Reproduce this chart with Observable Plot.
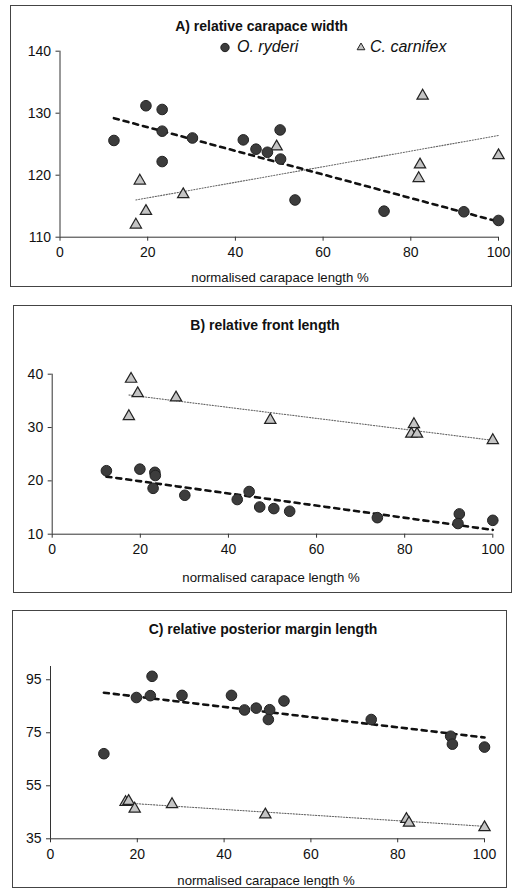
<!DOCTYPE html>
<html>
<head>
<meta charset="utf-8">
<script src="https://cdn.jsdelivr.net/npm/d3@7"></script>
<script src="https://cdn.jsdelivr.net/npm/@observablehq/plot@0.6"></script>
<style>
  html, body { margin: 0; padding: 0; background: #fff; }
  #page { position: relative; width: 519px; height: 894px; overflow: hidden; font-family: "Liberation Sans", Arial, sans-serif; color: #111; }
  .frame { position: absolute; border: 1.5px solid #444; box-sizing: border-box; pointer-events: none; }
  .plotwrap { position: absolute; }
  .plotwrap svg { display: block; background: transparent; }
  .title { position: absolute; font-weight: bold; font-size: 14px; text-align: center; white-space: nowrap; transform: translate(-50%, -50%); }
  .xlabel { position: absolute; font-size: 13.2px; text-align: center; white-space: nowrap; transform: translate(-50%, -50%); }
  .legend { position: absolute; font-size: 16px; font-style: italic; white-space: nowrap; transform: translateY(-50%); }
  .legsym { position: absolute; display: block; }
</style>
</head>
<body>
<div id="page"></div>
<script>
// ---------------- data ----------------
const xTicks = [0, 20, 40, 60, 80, 100];
const seriesNames = ["O. ryderi", "C. carnifex"];
const xLabel = "normalised carapace length %";

// Panel A: relative carapace width
const titleA = "A) relative carapace width";
const yTicksA = [110, 120, 130, 140];
const ryderiA_x = [12.3, 19.6, 23.3, 23.3, 23.3, 30.2, 41.8, 44.7, 47.3, 50.2, 50.3, 53.6, 73.9, 92.1, 100];
const ryderiA_y = [125.6, 131.2, 130.6, 127.1, 122.2, 126.0, 125.7, 124.2, 123.7, 127.3, 122.6, 116.0, 114.2, 114.1, 112.7];
const carnifexA_x = [17.3, 18.2, 19.6, 28.1, 49.4, 82.7, 82.1, 81.8, 100];
const carnifexA_y = [112.0, 119.1, 114.2, 116.9, 124.6, 132.8, 121.7, 119.5, 123.2];
const trendRyderiA_x = [12.3, 100];
const trendRyderiA_y = [129.2, 112.5];
const trendCarnifexA_x = [17.3, 100];
const trendCarnifexA_y = [116.0, 126.4];

// Panel B: relative front length
const titleB = "B) relative front length";
const yTicksB = [10, 20, 30, 40];
const ryderiB_x = [12.3, 19.9, 23.3, 23.4, 22.9, 30.1, 42.0, 44.7, 47.1, 50.3, 53.9, 73.8, 92.4, 92.1, 100];
const ryderiB_y = [21.9, 22.2, 21.6, 21.0, 18.6, 17.3, 16.5, 18.0, 15.1, 14.8, 14.3, 13.1, 13.8, 12.0, 12.6];
const carnifexB_x = [17.4, 17.9, 19.4, 28.1, 49.5, 82.1, 81.5, 82.8, 100];
const carnifexB_y = [32.1, 39.1, 36.4, 35.6, 31.4, 30.6, 28.8, 28.8, 27.6];
const trendRyderiB_x = [12.3, 100];
const trendRyderiB_y = [20.8, 10.8];
const trendCarnifexB_x = [17.4, 100];
const trendCarnifexB_y = [36.1, 27.6];

// Panel C: relative posterior margin length
const titleC = "C) relative posterior margin length";
const yTicksC = [35, 55, 75, 95];
const ryderiC_x = [12.3, 19.8, 23.0, 23.4, 30.3, 41.7, 44.7, 47.4, 50.5, 50.2, 53.8, 73.9, 92.2, 92.6, 100];
const ryderiC_y = [67.1, 88.3, 89.0, 96.3, 89.1, 89.1, 83.6, 84.3, 83.7, 80.0, 87.0, 80.0, 73.7, 70.7, 69.6];
const carnifexC_x = [17.3, 18.0, 19.4, 28.0, 49.5, 82.0, 82.6, 100];
const carnifexC_y = [48.8, 49.2, 46.3, 48.0, 44.1, 42.4, 41.0, 39.3];
const trendRyderiC_x = [12.3, 100];
const trendRyderiC_y = [90.1, 73.2];
const trendCarnifexC_x = [17.3, 100];
const trendCarnifexC_y = [48.5, 39.7];

// ---------------- rendering ----------------
const zip = (xs, ys) => xs.map((x, i) => ({x, y: ys[i]}));
const page = document.getElementById("page");

function addDiv(cls, text, left, top) {
  const d = document.createElement("div");
  d.className = cls;
  d.textContent = text;
  d.style.left = left + "px";
  d.style.top = top + "px";
  page.appendChild(d);
  return d;
}

function panel(cfg) {
  const {frame, margins, yDomain, yTicks, ryd, car, tRyd, tCar, title, titlePos, xlabPos} = cfg;
  const chart = Plot.plot({
    width: frame.w,
    height: frame.h,
    marginLeft: margins.l,
    marginRight: margins.r,
    marginTop: margins.t,
    marginBottom: margins.b,
    style: {fontFamily: "Liberation Sans, Arial, sans-serif", fontSize: "14px", color: "#111", background: "transparent"},
    x: {domain: [0, 100]},
    y: {domain: yDomain},
    marks: [
      Plot.ruleX([0], {stroke: "#333", strokeWidth: 1}),
      Plot.ruleY([yDomain[0]], {stroke: "#333", strokeWidth: 1}),
      Plot.axisX({ticks: xTicks, tickSize: 4, tickPadding: 6, fontSize: 14, label: null, stroke: "#333"}),
      Plot.axisY({ticks: yTicks, tickSize: 4, tickPadding: 5, fontSize: 14, label: null, stroke: "#333"}),
      Plot.line(tCar, {x: "x", y: "y", stroke: "#666", strokeWidth: 1.1, strokeDasharray: "1.2,1.6"}),
      Plot.line(tRyd, {x: "x", y: "y", stroke: "#111", strokeWidth: 2.6, strokeDasharray: "5,5"}),
      Plot.dot(car, {x: "x", y: "y", symbol: "triangle", r: 4.2, fill: "#c4c4c4", stroke: "#222", strokeWidth: 1.2}),
      Plot.dot(ryd, {x: "x", y: "y", symbol: "circle", r: 5.3, fill: "#3c3c3c", stroke: "#222", strokeWidth: 1})
    ]
  });
  const wrap = document.createElement("div");
  wrap.className = "plotwrap";
  wrap.style.left = frame.x + "px";
  wrap.style.top = frame.y + "px";
  wrap.appendChild(chart);
  page.appendChild(wrap);
  const f = document.createElement("div");
  f.className = "frame";
  f.style.left = frame.x + "px";
  f.style.top = frame.y + "px";
  f.style.width = frame.w + "px";
  f.style.height = frame.h + "px";
  page.appendChild(f);
  addDiv("title", title, titlePos[0], titlePos[1]);
  addDiv("xlabel", xLabel, xlabPos[0], xlabPos[1]);
}

panel({
  frame: {x: 10, y: 5, w: 502, h: 282},
  margins: {l: 49.5, r: 14, t: 45.7, b: 50.3},
  yDomain: [110, 140], yTicks: yTicksA,
  ryd: zip(ryderiA_x, ryderiA_y), car: zip(carnifexA_x, carnifexA_y),
  tRyd: zip(trendRyderiA_x, trendRyderiA_y), tCar: zip(trendCarnifexA_x, trendCarnifexA_y),
  title: titleA, titlePos: [261.5, 26], xlabPos: [280, 277]
});
panel({
  frame: {x: 13, y: 305, w: 499, h: 288},
  margins: {l: 38.7, r: 19.7, t: 68.7, b: 59.3},
  yDomain: [10, 40], yTicks: yTicksB,
  ryd: zip(ryderiB_x, ryderiB_y), car: zip(carnifexB_x, carnifexB_y),
  tRyd: zip(trendRyderiB_x, trendRyderiB_y), tCar: zip(trendCarnifexB_x, trendCarnifexB_y),
  title: titleB, titlePos: [265, 325], xlabPos: [271, 577]
});
panel({
  frame: {x: 12, y: 610, w: 495, h: 278},
  margins: {l: 38, r: 23, t: 56, b: 49.7},
  yDomain: [35, 100], yTicks: yTicksC,
  ryd: zip(ryderiC_x, ryderiC_y), car: zip(carnifexC_x, carnifexC_y),
  tRyd: zip(trendRyderiC_x, trendRyderiC_y), tCar: zip(trendCarnifexC_x, trendCarnifexC_y),
  title: titleC, titlePos: [263, 629], xlabPos: [266, 880]
});

// Legend (panel A)
function legendItem(symbol, label, cx, textLeft, cy) {
  const ns = "http://www.w3.org/2000/svg";
  const s = document.createElementNS(ns, "svg");
  s.setAttribute("class", "legsym");
  s.setAttribute("width", 12); s.setAttribute("height", 12);
  s.style.left = (cx - 6) + "px";
  s.style.top = (cy - 6) + "px";
  const p = document.createElementNS(ns, "path");
  p.setAttribute("transform", "translate(6,6.5)");
  p.setAttribute("d", d3.symbol(symbol === "circle" ? d3.symbolCircle : d3.symbolTriangle, symbol === "circle" ? 55 : 26)());
  p.setAttribute("fill", symbol === "circle" ? "#3c3c3c" : "#c4c4c4");
  p.setAttribute("stroke", "#222");
  p.setAttribute("stroke-width", 1);
  s.appendChild(p);
  page.appendChild(s);
  addDiv("legend", label, textLeft, cy);
}
legendItem("circle", seriesNames[0], 225, 237, 46.5);
legendItem("triangle", seriesNames[1], 361, 370, 46.5);
</script>
</body>
</html>
